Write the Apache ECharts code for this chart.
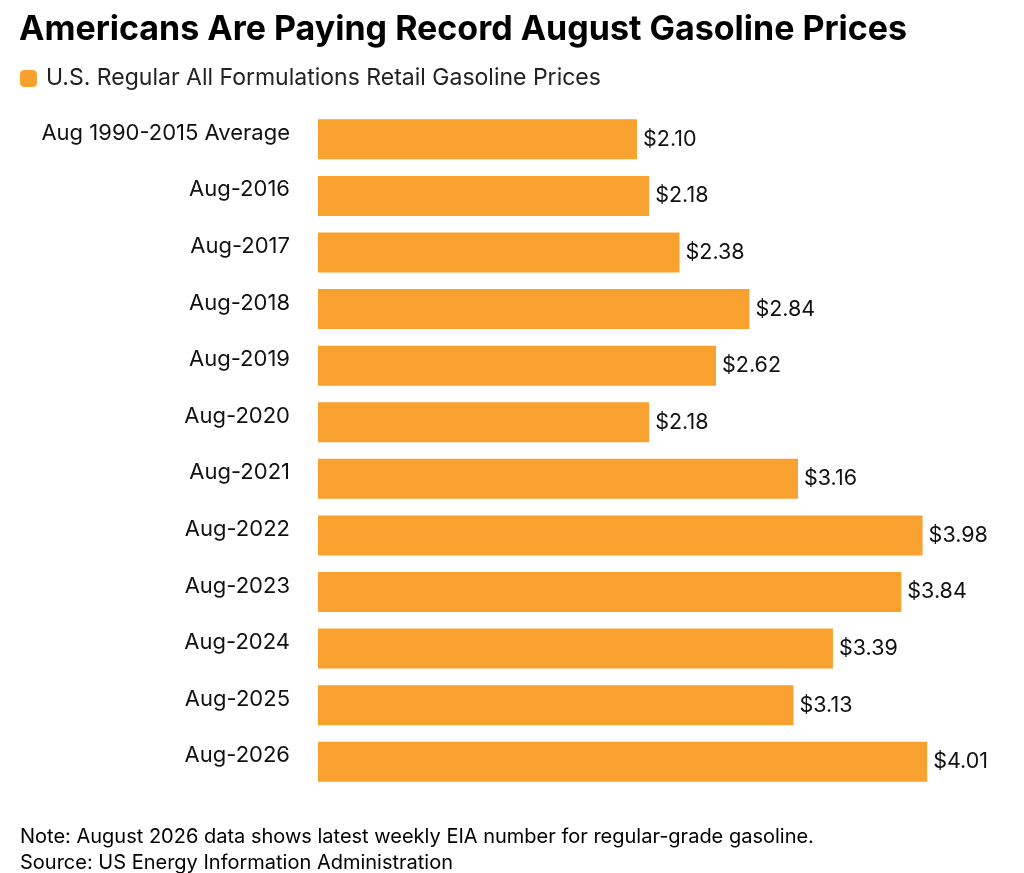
<!DOCTYPE html>
<html><head><meta charset="utf-8">
<script src="https://cdn.jsdelivr.net/npm/echarts@6/dist/echarts.min.js"></script>
<style>html,body{margin:0;padding:0;background:#fff}#c{width:1024px;height:873px}</style>
</head><body><div id="c"></div>
<script>
const categories = ["Aug 1990-2015 Average","Aug-2016","Aug-2017","Aug-2018","Aug-2019","Aug-2020","Aug-2021","Aug-2022","Aug-2023","Aug-2024","Aug-2025","Aug-2026"];
const prices = [2.10,2.18,2.38,2.84,2.62,2.18,3.16,3.98,3.84,3.39,3.13,4.01];
const seriesName = "U.S. Regular All Formulations Retail Gasoline Prices";
const chart = echarts.init(document.getElementById('c'));
const font = 'Inter, "Noto Sans", sans-serif';
chart.setOption({
  animation:false,
  textStyle:{fontFamily:font},
  title:[
    {text:"Americans Are Paying Record August Gasoline Prices",left:14,top:8,textStyle:{fontSize:34,fontWeight:'bold',color:'#000',fontFamily:font}},
    {text:"Note: August 2026 data shows latest weekly EIA number for regular-grade gasoline.\nSource: US Energy Information Administration",left:15,top:819,textStyle:{fontSize:20,fontWeight:'normal',color:'#000',lineHeight:26,fontFamily:font}}
  ],
  legend:{left:15,top:62,itemWidth:17,itemHeight:17,icon:'roundRect',itemGap:12,textStyle:{fontSize:23,color:'#222',fontFamily:font,padding:[0,0,0,4]},data:[seriesName]},
  grid:{left:318,right:68,top:111,bottom:83,containLabel:false},
  xAxis:{type:'value',min:0,max:4.2,show:false},
  yAxis:{type:'category',data:categories,inverse:true,axisLine:{show:false},axisTick:{show:false},
    axisLabel:{fontSize:22,color:'#111',margin:28,verticalAlign:'bottom',lineHeight:12,fontFamily:font}},
  series:[{name:seriesName,type:'bar',data:prices,barWidth:40,itemStyle:{color:'#F9A12E'},
    label:{show:true,position:'right',distance:6,fontSize:21.5,color:'#111',fontFamily:font,formatter:p=>'$'+p.value.toFixed(2)}}]
});
</script></body></html>
